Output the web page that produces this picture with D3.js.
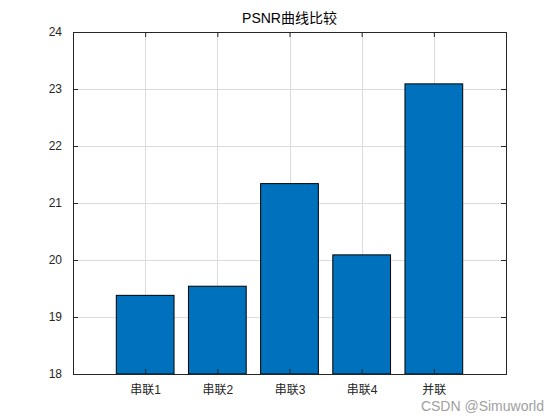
<!DOCTYPE html>
<html>
<head>
<meta charset="utf-8">
<script src="https://cdn.jsdelivr.net/npm/d3@7"></script>
<style>
  html, body { margin: 0; padding: 0; background: #fff; }
  svg text { font-family: "Liberation Sans", "Noto Sans CJK SC", Arial, sans-serif; }
</style>
</head>
<body>
<svg id="chart" width="560" height="420"></svg>
<script>
// PSNR per configuration
const categories = ["串联1", "串联2", "串联3", "串联4", "并联"];
const psnrValues = [19.38, 19.54, 21.34, 20.09, 23.09];
const yTicks = [18, 19, 20, 21, 22, 23, 24];
const titleText = "PSNR曲线比较";
const watermark = "CSDN @Simuworld";

(function () {
const svg = d3.select("#chart");
const padL = 73, padR = 506, padT = 32, padB = 374;
const fontStack = "'Liberation Sans', 'Noto Sans CJK SC', Arial, sans-serif";

const x = d3.scaleLinear().domain([0, 6]).range([padL, padR]);
const y = d3.scaleLinear().domain([18, 24]).range([padB, padT]);
const barW = x(0.8) - x(0);

// grid
const grid = svg.append("g").attr("stroke", "#dcdcdc").attr("stroke-width", 1);
yTicks.forEach(t => grid.append("line")
  .attr("x1", padL).attr("x2", padR)
  .attr("y1", Math.round(y(t)) + 0.5).attr("y2", Math.round(y(t)) + 0.5));
categories.forEach((c, i) => grid.append("line")
  .attr("y1", padT).attr("y2", padB)
  .attr("x1", Math.round(x(i + 1)) + 0.5).attr("x2", Math.round(x(i + 1)) + 0.5));

// bars
svg.append("g").selectAll("rect").data(psnrValues).join("rect")
  .attr("x", (d, i) => x(i + 1) - barW / 2)
  .attr("width", barW)
  .attr("y", d => y(d))
  .attr("height", d => y(18) - y(d))
  .attr("fill", "#0072BD")
  .attr("stroke", "#000")
  .attr("stroke-width", 1);

// axes with inward ticks
const tickLen = 5;
const axisColor = "#262626";
const fmt = d3.format("d");

const gLeft = svg.append("g").attr("transform", `translate(${padL},0)`)
  .call(d3.axisLeft(y).tickValues(yTicks).tickFormat(fmt).tickSize(-tickLen).tickPadding(11));
const gRight = svg.append("g").attr("transform", `translate(${padR},0)`)
  .call(d3.axisRight(y).tickValues(yTicks).tickFormat("").tickSize(-tickLen));
const gBottom = svg.append("g").attr("transform", `translate(0,${padB})`)
  .call(d3.axisBottom(x).tickValues([1, 2, 3, 4, 5])
    .tickFormat((d) => categories[d - 1]).tickSize(-tickLen).tickPadding(11));
const gTop = svg.append("g").attr("transform", `translate(0,${padT})`)
  .call(d3.axisTop(x).tickValues([1, 2, 3, 4, 5]).tickFormat("").tickSize(-tickLen));

[gLeft, gRight, gBottom, gTop].forEach(g => {
  g.select(".domain").attr("stroke", axisColor).attr("stroke-width", 1);
  g.selectAll(".tick line").attr("stroke", axisColor);
  g.selectAll("text").attr("fill", axisColor).style("font-size", "12px")
    .style("font-family", fontStack);
});

// title
svg.append("text").attr("x", (padL + padR) / 2).attr("y", 23)
  .attr("text-anchor", "middle").attr("fill", "#000")
  .style("font-family", fontStack)
  .style("font-size", "14px").text(titleText);

// watermark
svg.append("text").attr("x", 544).attr("y", 411)
  .attr("text-anchor", "end").attr("fill", "#a0a0a0")
  .style("font-family", fontStack)
  .style("font-size", "14px").text(watermark);
})();
</script>
</body>
</html>
